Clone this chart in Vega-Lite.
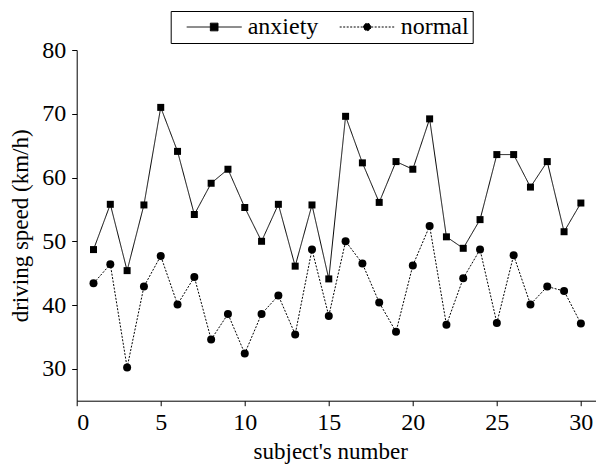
{
  "$schema": "https://vega.github.io/schema/vega-lite/v6.json",
  "width": 519.3,
  "height": 350.7,
  "autosize": {"type": "none"},
  "padding": {"left": 76.7, "top": 50, "right": 0, "bottom": 69.3},
  "background": "white",
  "config": {
    "font": "Liberation Serif, Times New Roman, Times, DejaVu Serif, serif",
    "view": {"stroke": null},
    "axis": {
      "grid": false,
      "domainColor": "black",
      "domainWidth": 1,
      "tickColor": "black",
      "tickSize": 5,
      "tickWidth": 1,
      "labelColor": "black",
      "labelFontSize": 24,
      "labelFont": "Liberation Serif, Times New Roman, Times, DejaVu Serif, serif",
      "titleColor": "black",
      "titleFontSize": 23,
      "titleFont": "Liberation Serif, Times New Roman, Times, DejaVu Serif, serif",
      "titleFontWeight": "normal"
    },
    "legend": {
      "labelFont": "Liberation Serif, Times New Roman, Times, DejaVu Serif, serif",
      "labelFontSize": 24,
      "labelColor": "black"
    }
  },
  "data": {
    "values": [
      {"subject": 1, "group": "anxiety", "speed": 48.7},
      {"subject": 2, "group": "anxiety", "speed": 55.8},
      {"subject": 3, "group": "anxiety", "speed": 45.4},
      {"subject": 4, "group": "anxiety", "speed": 55.7},
      {"subject": 5, "group": "anxiety", "speed": 71.0},
      {"subject": 6, "group": "anxiety", "speed": 64.1},
      {"subject": 7, "group": "anxiety", "speed": 54.2},
      {"subject": 8, "group": "anxiety", "speed": 59.1},
      {"subject": 9, "group": "anxiety", "speed": 61.3},
      {"subject": 10, "group": "anxiety", "speed": 55.3},
      {"subject": 11, "group": "anxiety", "speed": 50.0},
      {"subject": 12, "group": "anxiety", "speed": 55.8},
      {"subject": 13, "group": "anxiety", "speed": 46.1},
      {"subject": 14, "group": "anxiety", "speed": 55.7},
      {"subject": 15, "group": "anxiety", "speed": 44.1},
      {"subject": 16, "group": "anxiety", "speed": 69.6},
      {"subject": 17, "group": "anxiety", "speed": 62.3},
      {"subject": 18, "group": "anxiety", "speed": 56.1},
      {"subject": 19, "group": "anxiety", "speed": 62.5},
      {"subject": 20, "group": "anxiety", "speed": 61.3},
      {"subject": 21, "group": "anxiety", "speed": 69.2},
      {"subject": 22, "group": "anxiety", "speed": 50.7},
      {"subject": 23, "group": "anxiety", "speed": 48.9},
      {"subject": 24, "group": "anxiety", "speed": 53.4},
      {"subject": 25, "group": "anxiety", "speed": 63.6},
      {"subject": 26, "group": "anxiety", "speed": 63.6},
      {"subject": 27, "group": "anxiety", "speed": 58.5},
      {"subject": 28, "group": "anxiety", "speed": 62.5},
      {"subject": 29, "group": "anxiety", "speed": 51.5},
      {"subject": 30, "group": "anxiety", "speed": 56.0},
      {"subject": 1, "group": "normal", "speed": 43.4},
      {"subject": 2, "group": "normal", "speed": 46.4},
      {"subject": 3, "group": "normal", "speed": 30.2},
      {"subject": 4, "group": "normal", "speed": 42.9},
      {"subject": 5, "group": "normal", "speed": 47.7},
      {"subject": 6, "group": "normal", "speed": 40.1},
      {"subject": 7, "group": "normal", "speed": 44.4},
      {"subject": 8, "group": "normal", "speed": 34.6},
      {"subject": 9, "group": "normal", "speed": 38.6},
      {"subject": 10, "group": "normal", "speed": 32.4},
      {"subject": 11, "group": "normal", "speed": 38.6},
      {"subject": 12, "group": "normal", "speed": 41.5},
      {"subject": 13, "group": "normal", "speed": 35.4},
      {"subject": 14, "group": "normal", "speed": 48.7},
      {"subject": 15, "group": "normal", "speed": 38.3},
      {"subject": 16, "group": "normal", "speed": 50.0},
      {"subject": 17, "group": "normal", "speed": 46.5},
      {"subject": 18, "group": "normal", "speed": 40.4},
      {"subject": 19, "group": "normal", "speed": 35.8},
      {"subject": 20, "group": "normal", "speed": 46.2},
      {"subject": 21, "group": "normal", "speed": 52.4},
      {"subject": 22, "group": "normal", "speed": 36.9},
      {"subject": 23, "group": "normal", "speed": 44.2},
      {"subject": 24, "group": "normal", "speed": 48.7},
      {"subject": 25, "group": "normal", "speed": 37.2},
      {"subject": 26, "group": "normal", "speed": 47.8},
      {"subject": 27, "group": "normal", "speed": 40.1},
      {"subject": 28, "group": "normal", "speed": 42.9},
      {"subject": 29, "group": "normal", "speed": 42.2},
      {"subject": 30, "group": "normal", "speed": 37.1}
    ]
  },
  "encoding": {
    "x": {
      "field": "subject",
      "type": "quantitative",
      "scale": {"domain": [0, 30.9], "nice": false, "zero": false},
      "axis": {
        "title": "subject's number",
        "values": [0, 5, 10, 15, 20, 25, 30],
        "labelPadding": 5,
        "titlePadding": 6,
        "titleX": 253.5
      }
    },
    "y": {
      "field": "speed",
      "type": "quantitative",
      "scale": {"domain": [25, 80], "nice": false, "zero": false},
      "axis": {
        "title": "driving speed (km/h)",
        "values": [30, 40, 50, 60, 70, 80],
        "labelPadding": 6,
        "titlePadding": 9
      }
    }
  },
  "layer": [
    {
      "mark": {"type": "line", "color": "black", "strokeWidth": 1},
      "encoding": {
        "strokeDash": {
          "field": "group",
          "type": "nominal",
          "scale": {"domain": ["anxiety", "normal"], "range": [[1, 0], [2, 1.5]]},
          "legend": {
            "title": null,
            "orient": "none",
            "direction": "horizontal",
            "legendX": 94,
            "legendY": -39,
            "strokeColor": "black",
            "padding": 4,
            "symbolSize": 189,
            "symbolStrokeWidth": 1,
            "symbolStrokeColor": "black",
            "symbolFillColor": "black",
            "symbolOpacity": 1,
            "symbolType": {"expr": "datum.value === 'anxiety' ? 'M0,0H8M3.44,-0.56H4.56V0.56H3.44Z' : 'M0,0H8M4.53,0A0.53,0.53 0 1,1 3.47,0A0.53,0.53 0 1,1 4.53,0Z'"},
            "labelOffset": 49,
            "columnPadding": 9
          }
        }
      }
    },
    {
      "transform": [{"filter": "datum.group === 'anxiety'"}],
      "mark": {"type": "point", "filled": true, "color": "black", "opacity": 1, "shape": "square", "size": 49}
    },
    {
      "transform": [{"filter": "datum.group === 'normal'"}],
      "mark": {"type": "point", "filled": true, "color": "black", "opacity": 1, "shape": "circle", "size": 64}
    }
  ]
}
